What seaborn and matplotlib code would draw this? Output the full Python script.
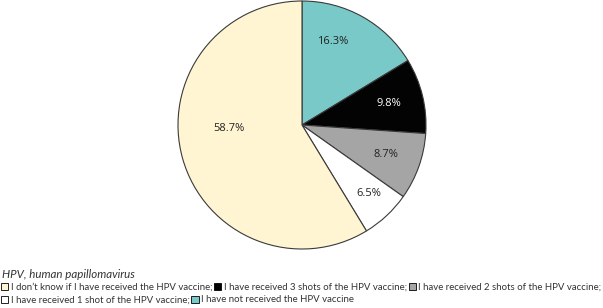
import matplotlib
matplotlib.use("Agg")
import matplotlib.pyplot as plt
import matplotlib.patches as mpatches
import seaborn as sns

# Data (clockwise from 12 o'clock)
categories = [
    "I have not received the HPV vaccine",
    "I have received 3 shots of the HPV vaccine",
    "I have received 2 shots of the HPV vaccine",
    "I have received 1 shot of the HPV vaccine",
    "I don\u2019t know if I have received the HPV vaccine",
]
shares = [16.3, 9.8, 8.7, 6.5, 58.7]
colors = ["#78C9C7", "#030303", "#A5A5A5", "#FFFFFF", "#FFF5D2"]
footnote = "HPV, human papillomavirus"

sns.set_theme(style="white")
plt.rcParams["font.family"] = ["Lato", "DejaVu Sans"]

fig = plt.figure(figsize=(6.03, 3.08), dpi=100)
ax = fig.add_axes([178 / 603, 59 / 308, 248 / 603, 248 / 308])

wedges, texts, autotexts = ax.pie(
    shares,
    colors=colors,
    startangle=90,
    counterclock=False,
    autopct=lambda p: f"{p:.1f}%",
    pctdistance=0.72,
    wedgeprops=dict(edgecolor="#3a3a3a", linewidth=0.8),
    textprops=dict(fontsize=8, family=["Open Sans", "DejaVu Sans"]),
)
ax.set_xlim(-1.0, 1.0)
ax.set_ylim(-1.0, 1.0)
ax.set_aspect("equal")
for t in autotexts:
    t.set_color("#222222")
autotexts[1].set_color("white")
# nudge a few labels to where the original chart puts them
autotexts[0].set_position((0.25, 0.67))
autotexts[3].set_position((0.54, -0.55))
autotexts[4].set_position((-0.59, -0.03))

# footnote + legend rows
fig.text(2 / 603, 1 - 275 / 308, footnote, fontsize=8.3, style="italic",
         color="#333333", va="center", ha="left")

def patch(i, semi=True):
    return mpatches.Patch(facecolor=colors[i], edgecolor="black", linewidth=0.6,
                          label=categories[i] + (";" if semi else ""))

row1 = [patch(4), patch(1), patch(2)]
row2 = [patch(3), patch(0, semi=False)]

leg_kw = dict(frameon=False, fontsize=6.9, handlelength=0.75, handleheight=0.75,
              handletextpad=0.25, columnspacing=0.2, borderaxespad=0, borderpad=0,
              loc="center left", labelcolor="#333333")
leg1 = fig.legend(handles=row1, ncol=3, bbox_to_anchor=(1 / 603, 1 - 287 / 308), **leg_kw)
leg2 = fig.legend(handles=row2, ncol=2, bbox_to_anchor=(1 / 603, 1 - 300 / 308), **leg_kw)

fig.savefig("out.png", dpi=100)
